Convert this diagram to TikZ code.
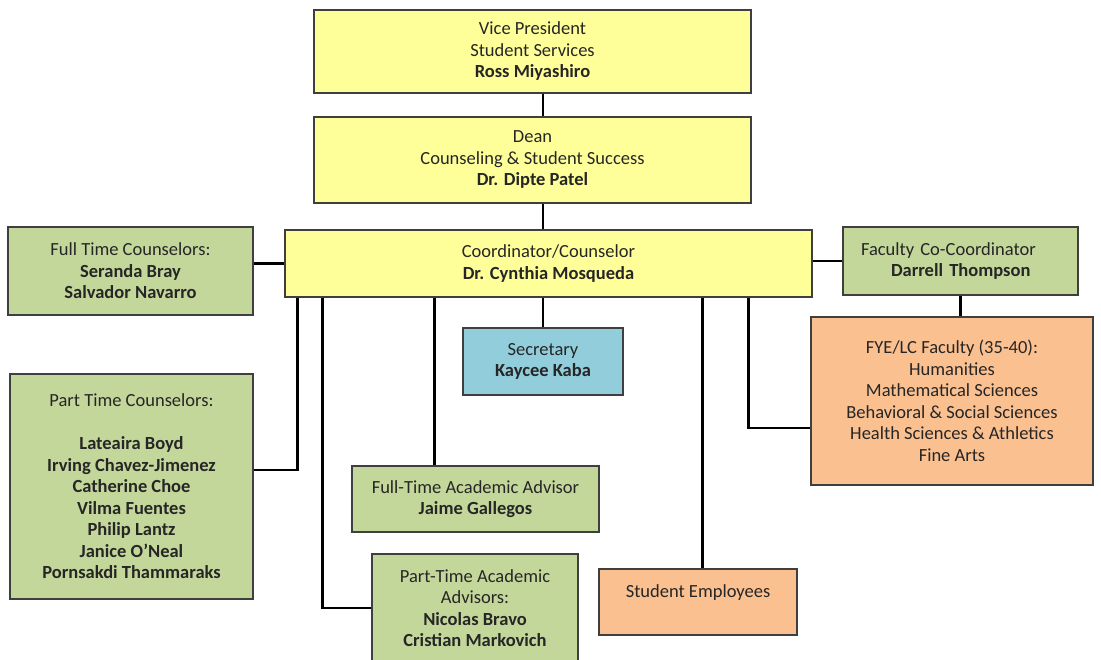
\documentclass[tikz,border=0pt]{standalone}
\usepackage{fontspec}
\setmainfont{Carlito}
\usepackage{tikz}
\usetikzlibrary{positioning}
\usetikzlibrary{calc}
\definecolor{colorLead}{HTML}{FFFF99}
\definecolor{colorStaff}{HTML}{C4D79B}
\definecolor{colorSec}{HTML}{92CDDC}
\definecolor{colorFac}{HTML}{FAC090}
\definecolor{colorEdge}{HTML}{3F3F3F}
\tikzset{
   box/.style={rectangle,draw=colorEdge,line width=1.4pt,align=center,
     text=black!85,inner sep=0pt,font=\fontsize{18.5}{21.5}\selectfont},
   lead/.style={box,fill=colorLead},
   staff/.style={box,fill=colorStaff},
   sec/.style={box,fill=colorSec},
   fac/.style={box,fill=colorFac},
   link/.style={-,line width=2.7pt,color=black},
}

\begin{document}
\begin{tikzpicture}[x=1pt, y=-1pt]
  \useasboundingbox (0, 0) rectangle (1101, 659);

  \node[lead, minimum width=437pt, minimum height=83pt] (vp)    at (532.5, 51.5)
    {Vice President\\Student Services\\\textbf{Ross Miyashiro}};
  \node[lead, minimum width=437pt, minimum height=86pt] (dean)  at (532.5, 160)
    {Dean\\Counseling \& Student Success\\\textbf{Dr. Dipte Patel}};
  \node[lead, minimum width=527pt, minimum height=67pt] (coord) at (548.5, 263.5)
    {Coordinator/Counselor\\\textbf{Dr. Cynthia Mosqueda}};

  \node[staff, minimum width=245pt, minimum height=88pt] (ftc)  at (130.5, 271)
    {Full Time Counselors:\\\textbf{Seranda Bray}\\\textbf{Salvador Navarro}};
  \node[staff, minimum width=235pt, minimum height=68pt, text width=199pt,
    inner xsep=18pt, align=left] (fcc) at (960.5, 261)
    {Faculty Co-Coordinator\\\hspace*{30pt}\textbf{Darrell Thompson}};
  \node[sec, minimum width=160pt, minimum height=67pt] (sec)    at (543, 361.5)
    {Secretary\\\textbf{Kaycee Kaba}};
  \node[fac, minimum width=282pt, minimum height=168pt] (fye)   at (952, 401)
    {FYE/LC Faculty (35-40):\\Humanities\\Mathematical Sciences\\
     Behavioral \& Social Sciences\\Health Sciences \& Athletics\\Fine Arts};

  \node[staff, minimum width=243pt, minimum height=225pt] (ptc) at (131.5, 486.5)
    {Part Time Counselors:\\[21.5pt]\textbf{Lateaira Boyd}\\
     \textbf{Irving Chavez-Jimenez}\\\textbf{Catherine Choe}\\
     \textbf{Vilma Fuentes}\\\textbf{Philip Lantz}\\\textbf{Janice O'Neal}\\
     \textbf{Pornsakdi Thammaraks}};
  \node[staff, minimum width=247pt, minimum height=66pt] (ftaa) at (475.5, 499)
    {Full-Time Academic Advisor\\\textbf{Jaime Gallegos}};
  \node[staff, minimum width=206pt, minimum height=108pt] (ptaa) at (475, 608)
    {Part-Time Academic\\Advisors:\\\textbf{Nicolas Bravo}\\
     \textbf{Cristian Markovich}};
  \node[fac, minimum width=198pt, minimum height=66pt] (emp)    at (698, 602)
    {Student Employees\\~};

  % taps under the coordinator
  \coordinate (cPTC)  at ([xshift=13pt]coord.south west);
  \coordinate (cPTAA) at ([xshift=38pt]coord.south west);
  \coordinate (cFTAA) at ([xshift=150pt]coord.south west);
  \coordinate (cEMP)  at ([xshift=418pt]coord.south west);
  \coordinate (cFYE)  at ([xshift=464pt]coord.south west);

  \draw[link] (vp.south -| sec)   -- (dean.north -| sec);
  \draw[link] (dean.south -| sec) -- (coord.north -| sec);
  \draw[link] (coord.south -| sec) -- (sec.north);

  \draw[link] (ftc.east |- coord.west) -- (coord.west);
  \draw[link] (coord.east |- fcc.west) -- (fcc.west);
  \draw[link] (fcc.south) -- (fcc.south |- fye.north);

  \draw[link] (cPTC)  |- ([yshift=16.5pt]ptc.east);
  \draw[link] (cPTAA) |- (ptaa.west);
  \draw[link] (cFTAA) -- (cFTAA |- ftaa.north);
  \draw[link] (cEMP)  -- (cEMP |- emp.north);
  \draw[link] (cFYE)  |- ([yshift=-27pt]fye.west);
\end{tikzpicture}
\end{document}
